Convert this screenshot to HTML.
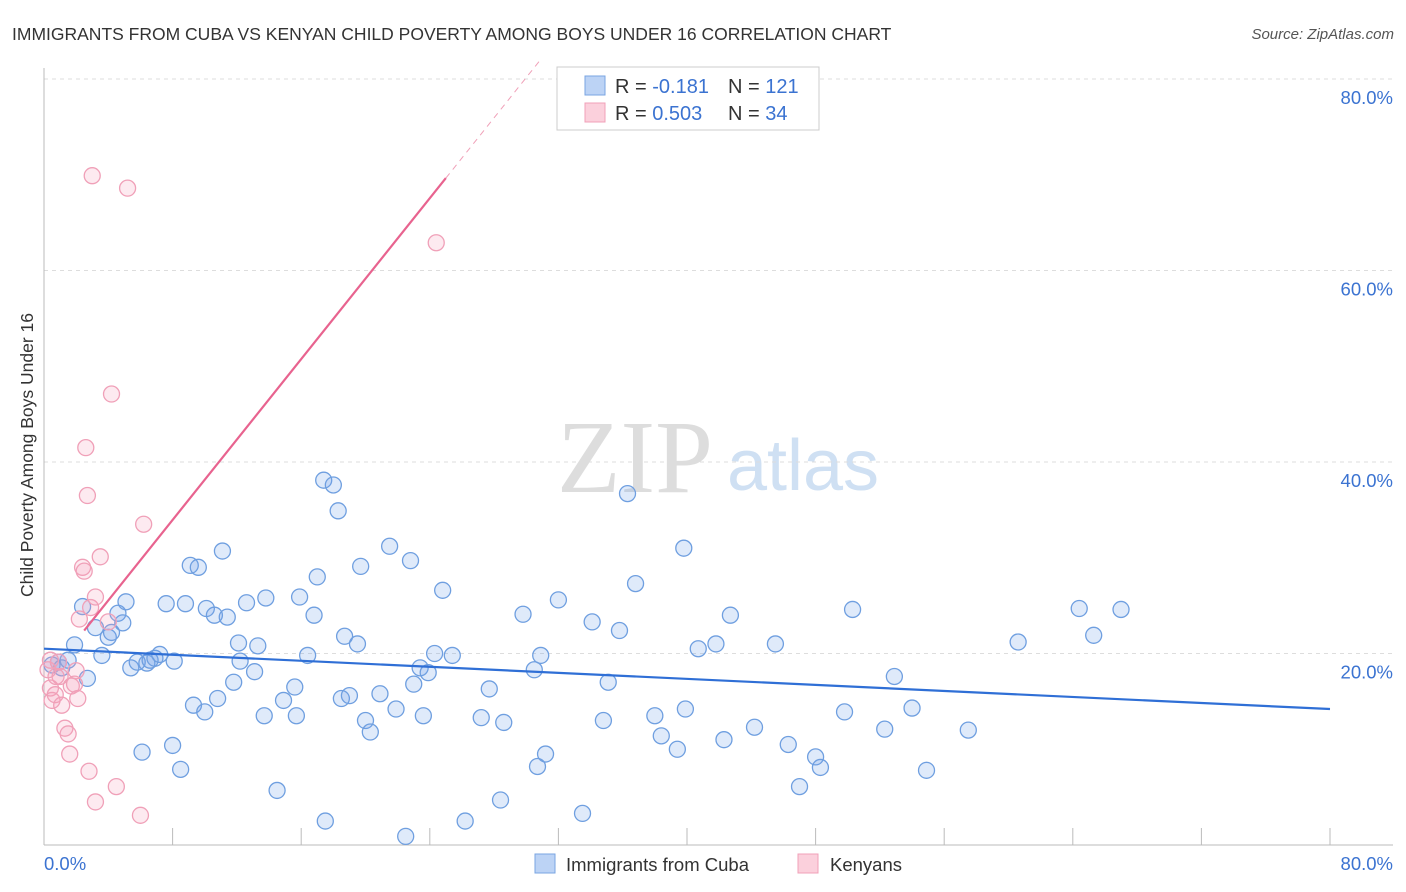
<!DOCTYPE html>
<html><head><meta charset="utf-8"><style>
body{margin:0;background:#fff;font-family:"Liberation Sans",sans-serif;}
svg{display:block}
</style></head><body>
<svg id="c" width="1406" height="892" xmlns="http://www.w3.org/2000/svg">
<text x="12" y="40" font-size="17.5" fill="#333">IMMIGRANTS FROM CUBA VS KENYAN CHILD POVERTY AMONG BOYS UNDER 16 CORRELATION CHART</text>
<text x="1394" y="39" font-size="15" fill="#555" font-style="italic" text-anchor="end">Source: ZipAtlas.com</text>
<text transform="translate(33,455) rotate(-90)" font-size="17.5" fill="#333" text-anchor="middle">Child Poverty Among Boys Under 16</text>
<g>
<text x="635" y="492" font-size="104" fill="#ddd" font-family="Liberation Serif,serif" text-anchor="middle">ZIP</text>
<text x="803" y="490" font-size="72" fill="#cfe0f3" text-anchor="middle">atlas</text>
</g>
<g id="grid"></g><g id="axes"></g><g id="pts"></g><g id="trend"></g>
<g>
<rect x="557" y="67" width="262" height="63" fill="#fff" stroke="#ccc"/>
<rect x="585" y="76" width="20" height="19" fill="#bcd3f5" stroke="#7aa4e2"/>
<rect x="585" y="103" width="20" height="19" fill="#fbd0dc" stroke="#f0a0b8"/>
<text x="615" y="93" font-size="20" fill="#333">R = <tspan fill="#3b73d1">-0.181</tspan><tspan x="728">N = </tspan><tspan fill="#3b73d1">121</tspan></text>
<text x="615" y="120" font-size="20" fill="#333">R = <tspan fill="#3b73d1">0.503</tspan><tspan x="728">N = </tspan><tspan fill="#3b73d1"> 34</tspan></text>
</g>
<g>
<rect x="535" y="854" width="20" height="19" fill="#bcd3f5" stroke="#7aa4e2"/>
<text x="566" y="871" font-size="18.5" fill="#333">Immigrants from Cuba</text>
<rect x="798" y="854" width="20" height="19" fill="#fbd0dc" stroke="#f0a0b8"/>
<text x="830" y="871" font-size="18.5" fill="#333">Kenyans</text>
</g>
</svg>
<script>
const yTicks=[20,40,60,80];
const yTickLabels=["20.0%","40.0%","60.0%","80.0%"];
const xTicks=[0,8,16,24,32,40,48,56,64,72,80];
const cubaX=[0.5,0.9,1.1,1.5,1.9,2.4,2.7,3.2,3.6,4.0,4.2,4.6,4.9,5.1,5.4,5.8,6.1,6.4,6.6,6.9,7.2,7.6,8.0,8.1,8.5,8.8,9.1,9.3,9.6,10.0,10.1,10.6,10.8,11.1,11.4,11.8,12.1,12.2,12.6,13.1,13.3,13.7,13.8,14.5,14.9,15.6,15.7,15.9,16.4,16.8,17.0,17.4,17.5,18.0,18.3,18.5,18.7,19.0,19.5,19.7,20.0,20.3,20.9,21.5,21.9,22.5,22.8,23.0,23.4,23.6,23.9,24.3,24.8,25.4,26.2,27.2,27.7,28.4,28.6,29.8,30.5,30.7,30.9,31.2,32.0,33.5,34.1,34.8,35.1,35.8,36.3,36.8,38.0,38.4,39.4,39.8,39.9,40.7,41.8,42.3,42.7,44.2,45.5,46.3,47.0,48.0,48.3,49.8,50.3,52.3,52.9,54.0,54.9,57.5,60.6,64.4,65.3,67.0];
const cubaY=[18.8,19.1,18.5,19.3,20.9,24.9,17.4,22.7,19.8,21.7,22.2,24.2,23.2,25.4,18.5,19.1,9.7,19.0,19.3,19.5,19.9,25.2,10.4,19.2,7.9,25.2,29.2,14.6,29.0,13.9,24.7,24.0,15.3,30.7,23.8,17.0,21.1,19.2,25.3,18.1,20.8,13.5,25.8,5.7,15.1,16.5,13.5,25.9,19.8,24.0,28.0,38.1,2.5,37.6,34.9,15.3,21.8,15.6,21.0,29.1,13.0,11.8,15.8,31.2,14.2,0.9,29.7,16.8,18.5,13.5,18.0,20.0,26.6,19.8,2.5,13.3,16.3,4.7,12.8,24.1,18.3,8.2,19.8,9.5,25.6,3.3,23.3,13.0,17.0,22.4,36.7,27.3,13.5,11.4,10.0,31.0,14.2,20.5,21.0,11.0,24.0,12.3,21.0,10.5,6.1,9.2,8.1,13.9,24.6,12.1,17.6,14.3,7.8,12.0,21.2,24.7,21.9,24.6];
const kenX=[0.25,0.4,0.5,0.7,0.9,1.0,1.1,1.3,1.5,1.6,1.7,1.9,2.0,2.1,2.2,2.4,2.6,2.7,2.5,2.8,2.9,3.0,3.2,3.2,3.5,4.0,4.2,4.5,5.2,6.0,6.2,24.4,0.75,0.4];
const kenY=[18.3,16.4,15.1,15.7,19.1,17.6,14.6,12.2,11.6,9.5,16.6,16.8,18.2,15.3,23.6,29.0,41.5,36.5,28.6,7.7,24.8,69.9,4.5,25.9,30.1,23.3,47.1,6.1,68.6,3.1,33.5,62.9,17.6,19.3];
const cubaTrend=[20.5,14.2];
const kenTrend={slope:2.1,intercept:17.15};
const X=v=>44+v*(1330-44)/80, Y=v=>845-v*(845-79)/80;
const NS='http://www.w3.org/2000/svg';
function mk(t,a,p){const e=document.createElementNS(NS,t);for(const k in a)e.setAttribute(k,a[k]);p.appendChild(e);return e;}
const grid=document.getElementById('grid'),axes=document.getElementById('axes'),pts=document.getElementById('pts'),tr=document.getElementById('trend');
yTicks.forEach((v,i)=>{const l=mk('line',{x1:44,x2:1393,y1:Y(v),y2:Y(v),stroke:'#ddd','stroke-dasharray':'4,4'},grid);


const t=mk('text',{x:1393,y:Y(v)+25,'font-size':18.5,fill:'#3b73d1','text-anchor':'end'},axes);t.textContent=yTickLabels[i];

});
const ax=mk('line',{x1:44,x2:1393,y1:845,y2:845,stroke:'#bbb'},axes);


const ay=mk('line',{x1:44,x2:44,y1:68,y2:845,stroke:'#bbb'},axes);


xTicks.forEach(v=>{const l=mk('line',{x1:X(v),x2:X(v),y1:828,y2:845,stroke:'#bbb'},axes);

});
let t0=mk('text',{x:44,y:870,'font-size':18.5,fill:'#3b73d1'},axes);t0.textContent='0.0%';


let t1=mk('text',{x:1393,y:870,'font-size':18.5,fill:'#3b73d1','text-anchor':'end'},axes);t1.textContent='80.0%';


cubaX.forEach((x,i)=>{const c=mk('circle',{cx:X(x),cy:Y(cubaY[i]),r:8,fill:'rgba(110,160,230,0.22)',stroke:'#6f9fe0','stroke-width':1.3},pts);

});
kenX.forEach((x,i)=>{const c=mk('circle',{cx:X(x),cy:Y(kenY[i]),r:8,fill:'rgba(245,160,185,0.22)',stroke:'#f0a0b8','stroke-width':1.3},pts);

});
const bl=mk('line',{x1:X(0),y1:Y(cubaTrend[0]),x2:X(80),y2:Y(cubaTrend[1]),stroke:'#2f6fd6','stroke-width':2.2},tr);


const kf=x=>kenTrend.intercept+kenTrend.slope*x;
const pl=mk('line',{x1:X(2.5),y1:Y(kf(2.5)),x2:X(25),y2:Y(kf(25)),stroke:'#e8638f','stroke-width':2.2},tr);


const xe=(82-kenTrend.intercept)/kenTrend.slope;
const pd=mk('line',{x1:X(25),y1:Y(kf(25)),x2:X(xe),y2:Y(kf(xe)),stroke:'#f0a0b8','stroke-width':1,'stroke-dasharray':'6,5'},tr);


</script>
</body></html>
